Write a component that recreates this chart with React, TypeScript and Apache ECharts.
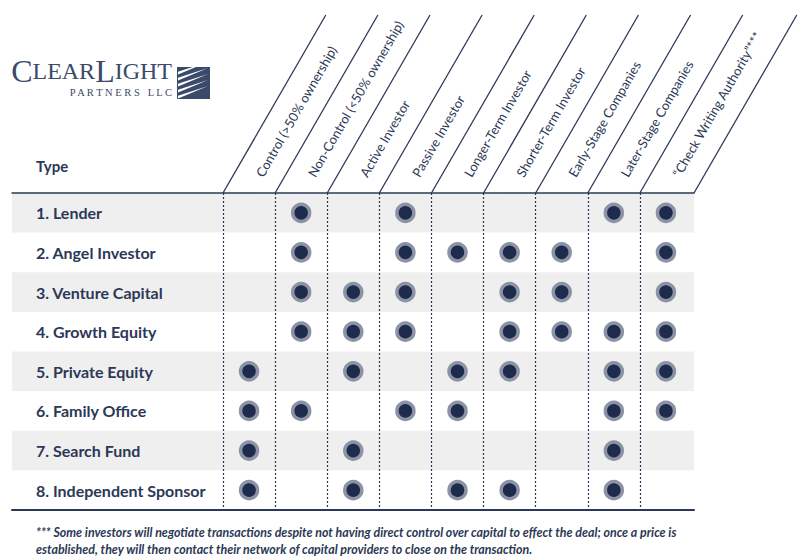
import React, { useEffect, useRef } from "react";
import * as echarts from "echarts";

const columns = [
  "Control (>50% ownership)",
  "Non-Control (<50% ownership)",
  "Active Investor",
  "Passive Investor",
  "Longer-Term Investor",
  "Shorter-Term Investor",
  "Early-Stage Companies",
  "Later-Stage Companies",
  "\u201CCheck Writing Authority\u201D***",
];

const rows = [
  "1. Lender",
  "2. Angel Investor",
  "3. Venture Capital",
  "4. Growth Equity",
  "5. Private Equity",
  "6. Family Office",
  "7. Search Fund",
  "8. Independent Sponsor",
];

// 1 = applies, per column above
const lender = [0, 1, 0, 1, 0, 0, 0, 1, 1];
const angelInvestor = [0, 1, 0, 1, 1, 1, 1, 0, 1];
const ventureCapital = [0, 1, 1, 1, 0, 1, 1, 0, 1];
const growthEquity = [0, 1, 1, 1, 0, 1, 1, 1, 1];
const privateEquity = [1, 0, 1, 0, 1, 1, 0, 1, 1];
const familyOffice = [1, 1, 0, 1, 1, 0, 0, 1, 1];
const searchFund = [1, 0, 1, 0, 0, 0, 0, 1, 0];
const independentSponsor = [1, 0, 1, 0, 1, 1, 0, 1, 0];

const matrix = [
  lender,
  angelInvestor,
  ventureCapital,
  growthEquity,
  privateEquity,
  familyOffice,
  searchFund,
  independentSponsor,
];

const footnoteLines = [
  "*** Some investors will negotiate transactions despite not having direct control over capital to effect the deal; once a price is",
  "established, they will then contact their network of capital providers to close on the transaction.",
];

const NAVY = "#2b3856";
const FONT = "Lato, 'Open Sans', sans-serif";

export default function App() {
  const ref = useRef<HTMLDivElement>(null);

  useEffect(() => {
    document.body.style.margin = "0";
    if (!ref.current) return;
    const chart = echarts.init(ref.current, undefined, { renderer: "svg" });

    const gridTop = 193;
    const gridHeight = 317;
    const tableRight = 694;
    const headerTopY = 15;
    const angle = (60 * Math.PI) / 180;
    const diagDx = (gridTop - headerTopY) / Math.tan(angle);

    const dots: number[][] = [];
    matrix.forEach((r, ri) =>
      r.forEach((v, ci) => {
        if (v) dots.push([ci, ri]);
      })
    );

    const stripes = [73, 79, 85, 91, 97].map((y0) => ({
      type: "polygon",
      shape: {
        points: [
          [178, y0 - 1.2],
          [208, y0 - 11],
          [178, y0 + 1.6],
        ],
      },
      style: { fill: "#ffffff" },
    }));

    chart.setOption({
      animation: false,
      grid: [
        { left: 12, right: 808 - tableRight, top: gridTop, height: gridHeight },
        { left: 223, right: 116, top: gridTop, height: gridHeight },
      ],
      xAxis: [
        {
          gridIndex: 0,
          type: "value",
          position: "top",
          axisLine: { show: true, lineStyle: { color: NAVY, width: 1.5 } },
          axisTick: { show: false },
          axisLabel: { show: false },
          splitLine: { show: false },
        },
        {
          gridIndex: 0,
          type: "value",
          position: "bottom",
          axisLine: { show: true, lineStyle: { color: NAVY, width: 2 } },
          axisTick: { show: false },
          axisLabel: { show: false },
          splitLine: { show: false },
        },
        {
          gridIndex: 1,
          type: "category",
          data: columns,
          position: "top",
          axisLine: { show: false },
          axisTick: { show: false },
          axisLabel: {
            interval: 0,
            rotate: -60,
            margin: 0,
            align: "left",
            verticalAlign: "middle",
            padding: [0, 0, 0, 20],
            color: NAVY,
            fontFamily: FONT,
            fontSize: 13,
          },
          splitLine: {
            show: true,
            showMaxLine: false,
            interval: 0,
            lineStyle: { color: NAVY, type: [2, 2], width: 1.2 },
          },
        },
      ],
      yAxis: [
        {
          gridIndex: 0,
          type: "category",
          data: rows,
          inverse: true,
          axisLine: { show: false },
          axisTick: { show: false },
          axisLabel: { show: false },
          splitLine: { show: false },
          splitArea: {
            show: true,
            interval: 0,
            areaStyle: { color: ["#efefef", "#ffffff"] },
          },
        },
        {
          gridIndex: 1,
          type: "category",
          data: rows,
          inverse: true,
          axisLine: { show: false },
          axisTick: { show: false },
          axisLabel: {
            interval: 0,
            align: "left",
            margin: 187,
            color: NAVY,
            fontFamily: FONT,
            fontWeight: "bold",
            fontSize: 16,
          },
          splitLine: { show: false },
        },
      ],
      series: [
        {
          type: "custom",
          xAxisIndex: 2,
          yAxisIndex: 1,
          clip: false,
          silent: true,
          data: columns.map((_, i) => [i, 0]),
          renderItem: (params: any, api: any) => {
            const i = api.value(0);
            const c = api.coord([i, 0]);
            const w = api.size([1, 0])[0];
            const top = params.coordSys.y;
            const xs = [c[0] - w / 2];
            if (i === columns.length - 1) xs.push(tableRight);
            return {
              type: "group",
              children: xs.map((x) => ({
                type: "line",
                shape: { x1: x, y1: top, x2: x + diagDx, y2: headerTopY },
                style: { stroke: NAVY, lineWidth: 1.3 },
              })),
            };
          },
        },
        {
          type: "scatter",
          xAxisIndex: 2,
          yAxisIndex: 1,
          data: dots,
          symbol: "circle",
          symbolSize: 17,
          itemStyle: {
            color: "#1e2b4d",
            borderColor: "#8b93a4",
            borderWidth: 3.5,
            opacity: 1,
          },
        },
      ],
      graphic: [
        {
          type: "text",
          left: 36,
          top: 158,
          style: {
            text: "Type",
            fill: NAVY,
            font: `bold 15px ${FONT}`,
          },
        },
        {
          type: "text",
          x: 172,
          y: 87,
          style: {
            text: "{b|C}{s|LEAR}{b|L}{s|IGHT}",
            align: "right",
            verticalAlign: "bottom",
            rich: {
              b: { fontFamily: "'Liberation Serif', serif", fontSize: 32, fill: "#3b4a69", color: "#3b4a69" },
              s: { fontFamily: "'Liberation Serif', serif", fontSize: 24, fill: "#3b4a69", color: "#3b4a69" },
            },
          },
        },
        {
          type: "text",
          x: 172,
          y: 98,
          style: {
            text: "P A R T N E R S   L L C",
            align: "right",
            verticalAlign: "bottom",
            fill: "#3b4a69",
            font: "10.5px 'Liberation Serif', serif",
          },
        },
        {
          type: "rect",
          shape: { x: 177, y: 67, width: 33, height: 32 },
          style: { fill: "#3b4a69" },
        },
        ...stripes,
        ...footnoteLines.map((t, i) => ({
          type: "text",
          x: 36,
          y: 532 + i * 17,
          style: {
            text: t,
            fill: NAVY,
            font: `italic bold 12.4px ${FONT}`,
            verticalAlign: "middle",
          },
        })),
      ],
    });

    return () => chart.dispose();
  }, []);

  return <div ref={ref} style={{ width: 808, height: 560 }} />;
}
